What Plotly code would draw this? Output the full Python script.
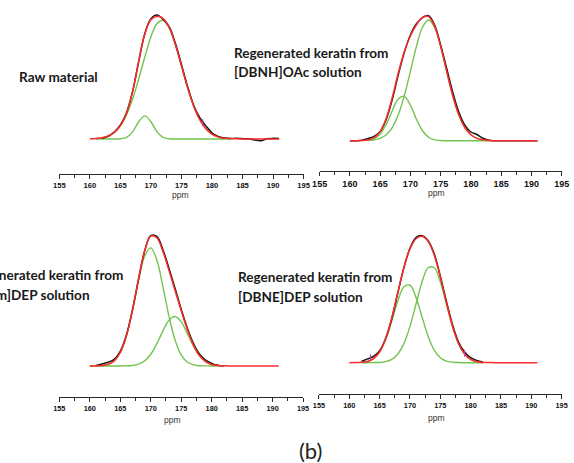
import plotly.graph_objects as go

W, H = 574, 463
N = None

# chemical shift grid (ppm)
PPM = list(range(160, 192))

# ---- Panel 1: Raw material ----
p1_exp = [N, N, 0.5, 2.2, 5.6, 11.2, 21.0, 38.0, 62.0, 84.0, 96.0, 99.0, 95.5, 89.5, 76.5, 59.5,
          42.0, 27.0, 17.0, 10.5, 5.0, 2.0, 0.8, 0.4, 0.6, 0.3, 0.2, -0.8, -1.4, 0.2, 0.5, 0.4]
p1_fit = [0.1, 0.4, 1.0, 2.4, 5.3, 10.8, 20.6, 37.6, 61.8, 84.0, 95.3, 97.9, 96.1, 88.9, 75.5, 58.5,
          41.2, 26.4, 15.4, 8.1, 3.9, 1.7, 0.7, 0.3, 0.1, 0, 0, 0, 0, 0, 0, 0]
p1_pk_a = [N, 0.4, 1.0, 2.4, 5.3, 10.6, 19.3, 31.9, 48.0, 65.5, 81.5, 92.2, 94.8, 88.7, 75.5, 58.5,
           41.2, 26.4, 15.4, 8.1, 3.9, 1.7, 0.7, 0.3, N, N, N, N, N, N, N, N]
p1_pk_b = [N, 0, 0, 0, 0.05, 0.2, 1.3, 5.7, 13.8, 18.5, 13.8, 5.7, 1.3, 0.2, 0, 0,
           0, 0, 0, 0, 0, 0, 0, 0, N, N, N, N, N, N, N, N]

# ---- Panel 2: [DBNH]OAc ----
p2_exp = [0, 0, 0.3, 1.8, 3.5, 7.5, 17.0, 33.0, 53.0, 71.0, 85.0, 94.0, 99.0, 100.5, 93.0, 77.0,
          58.0, 39.0, 23.0, 12.5, 7.0, 5.0, 2.0, 0.3, 0, 0, 0, 0, 0, 0, 0, 0]
p2_fit = [0, 0, 0.1, 0.6, 2.4, 7.3, 17.9, 34.7, 54.4, 71.8, 84.2, 93.1, 99.2, 99.8, 91.9, 76.0,
          55.7, 36.2, 20.8, 10.6, 4.8, 1.9, 0.7, 0.2, 0, 0, 0, 0, 0, 0, 0, 0]
p2_pk_a = [N, N, N, 0.2, 0.7, 1.9, 4.8, 10.6, 20.8, 36.2, 55.7, 75.8, 91.2, 97.0, 91.2, 75.8,
           55.7, 36.2, 20.8, 10.6, 4.8, 1.9, 0.7, 0.2, N, N, N, N, N, N, N, N]
p2_pk_b = [N, N, N, 0.4, 1.7, 5.4, 13.1, 24.1, 33.6, 35.6, 28.5, 17.3, 8.0, 2.8, 0.7, 0.2,
           0, 0, 0, 0, 0, 0, 0, 0, N, N, N, N, N, N, N, N]

# ---- Panel 3: [Emim]DEP ----
p3_exp = [N, 0.3, 1.5, 2.8, 5.0, 11.0, 23.0, 42.0, 65.0, 86.0, 97.5, 97.0, 87.0, 73.0, 58.0, 42.5,
          28.5, 17.0, 9.0, 4.5, 2.0, 0.5, 0.0, N, N, N, N, N, N, N, N, N]
p3_fit = [0, 0.1, 0.3, 1.2, 3.8, 10.1, 22.4, 41.7, 65.2, 86.0, 97.2, 96.0, 85.7, 71.4, 56.3, 41.4,
          27.4, 15.8, 7.8, 3.3, 1.1, 0.3, 0.1, 0, 0, 0, 0, 0, 0, 0, 0, 0]
p3_pk_a = [0, 0.1, 0.3, 1.2, 3.8, 10.1, 22.3, 41.3, 63.8, 82.2, 88.4, 79.3, 59.4, 37.1, 19.3, 8.4,
           3.0, 0.9, 0.2, 0.1, 0, 0, N, N, N, N, N, N, N, N, N, N]
p3_pk_b = [0, 0, 0, 0, 0, 0, 0.1, 0.4, 1.4, 3.8, 8.8, 16.7, 26.3, 34.3, 37.0, 33.0,
           24.4, 14.9, 7.6, 3.2, 1.1, 0.3, N, N, N, N, N, N, N, N, N, N]

# ---- Panel 4: [DBNE]DEP ----
p4_exp = [N, N, 1.0, 3.0, 5.0, 9.5, 19.5, 35.0, 55.5, 75.5, 91.0, 99.5, 101.0, 97.0, 86.5, 69.0,
          49.0, 30.5, 16.5, 8.5, 4.0, 1.8, 0.5, N, N, N, N, N, N, N, N, N]
p4_fit = [0, 0.1, 0.3, 1.0, 3.3, 8.7, 19.3, 35.6, 56.0, 75.6, 90.5, 98.6, 100.6, 96.5, 85.5, 68.3,
          48.0, 29.3, 15.3, 6.9, 2.6, 0.9, 0.2, 0.1, 0, 0, 0, 0, 0, 0, 0, 0]
p4_pk_a = [N, N, 0.3, 1.0, 3.2, 8.5, 18.4, 33.0, 49.1, 60.4, 61.6, 51.9, 36.3, 21.0, 10.0, 4.0,
           1.3, 0.4, 0.1, 0, 0, 0, 0, N, N, N, N, N, N, N, N, N]
p4_pk_b = [N, N, 0, 0, 0.1, 0.2, 0.9, 2.6, 6.9, 15.2, 28.9, 46.7, 64.3, 75.5, 75.5, 64.3,
           46.7, 28.9, 15.2, 6.9, 2.6, 0.9, 0.2, N, N, N, N, N, N, N, N, N]

# small magenta cursor marks on the experimental traces
p1_mark_x, p1_mark_y = [178.5], [13.0]
p4_mark_x, p4_mark_y = [163.5, 179.0], [4.0, 7.5]

titles = [
    ["Raw material"],
    ["Regenerated keratin from", "[DBNH]OAc solution"],
    ["Regenerated keratin from", "[Emim]DEP solution"],
    ["Regenerated keratin from", "[DBNE]DEP solution"],
]
tick_vals = [155, 160, 165, 170, 175, 180, 185, 190, 195]
minor_vals = [157.5, 162.5, 167.5, 172.5, 177.5, 182.5, 187.5, 192.5]
x_title = "ppm"
fig_label = "(b)"

# layout geometry in pixels: x of 155 / 195, axis line y, baseline y, peak y
geom = [
    dict(x0=52.7, x1=303.5, A=174.0, B=139.0, P=15.0, tf=7.6),
    dict(x0=320.0, x1=568.5, A=171.0, B=140.7, P=15.7, tf=9.0),
    dict(x0=52.7, x1=303.0, A=397.0, B=366.0, P=235.7, tf=7.3),
    dict(x0=319.3, x1=568.5, A=394.0, B=362.7, P=235.7, tf=7.3),
]

panels = [
    (p1_exp, p1_fit, p1_pk_a, p1_pk_b),
    (p2_exp, p2_fit, p2_pk_a, p2_pk_b),
    (p3_exp, p3_fit, p3_pk_a, p3_pk_b),
    (p4_exp, p4_fit, p4_pk_a, p4_pk_b),
]

RED = "#ff2a2a"
BLACK = "#151515"
GREEN = "#72c44e"
AXC = "#2a2a2a"

fig = go.Figure()
layout = dict(width=W, height=H, margin=dict(l=0, r=0, t=0, b=0),
              paper_bgcolor="white", plot_bgcolor="rgba(0,0,0,0)", showlegend=False)

for i, (exp, fit, pa, pb) in enumerate(panels):
    k = i + 1
    xa = "x" if k == 1 else f"x{k}"
    ya = "y" if k == 1 else f"y{k}"
    g = geom[i]
    for arr, col, w in ((pa, GREEN, 1.4), (pb, GREEN, 1.4), (exp, BLACK, 1.5), (fit, RED, 1.5)):
        fig.add_trace(go.Scatter(x=PPM, y=arr, mode="lines", xaxis=xa, yaxis=ya,
                                 line=dict(color=col, width=w, shape="spline", smoothing=1.0),
                                 connectgaps=False, hoverinfo="skip"))
    vmax = max(v for v in exp + fit if v is not None)
    T = g["P"] - 4
    s = (g["B"] - g["P"]) / vmax
    ymin = -(g["A"] - g["B"]) / s
    ymax = (g["B"] - T) / s
    layout["xaxis" if k == 1 else f"xaxis{k}"] = dict(
        domain=[g["x0"] / W, g["x1"] / W], range=[155, 195], anchor=ya,
        showgrid=False, zeroline=False, showline=True, linecolor=AXC, linewidth=1,
        ticks="outside", ticklen=4, tickwidth=1, tickcolor=AXC,
        tickvals=tick_vals, ticktext=[f"<b>{v}</b>" for v in tick_vals],
        tickfont=dict(family="Liberation Sans, Arial", size=g["tf"], color="#111"),
        minor=dict(tickvals=minor_vals, ticks="outside", ticklen=2.5, tickcolor=AXC, tickwidth=1),
        fixedrange=True)
    layout["yaxis" if k == 1 else f"yaxis{k}"] = dict(
        domain=[(H - g["A"]) / H, (H - T) / H], range=[ymin, ymax], anchor=xa,
        visible=False, fixedrange=True)

fig.add_trace(go.Scatter(x=p1_mark_x, y=p1_mark_y, mode="markers", xaxis="x", yaxis="y",
                         marker=dict(symbol="line-ns", size=5, line=dict(color="#c040c0", width=1)),
                         hoverinfo="skip"))
fig.add_trace(go.Scatter(x=p4_mark_x, y=p4_mark_y, mode="markers", xaxis="x4", yaxis="y4",
                         marker=dict(symbol="line-ns", size=5, line=dict(color="#c040c0", width=1)),
                         hoverinfo="skip"))

ann = []
TF = dict(family="Lato, Open Sans, sans-serif", size=13.6, color="#1a1a1a")
# (left x px, line-center y px) for each title line
title_pos = [
    [(9.5, 77.0)],
    [(229.5, 53.0), (229.5, 72.0)],
    [(-42.0, 275.0), (-42.0, 295.0)],
    [(234.5, 276.5), (234.5, 296.5)],
]
for lines, poss in zip(titles, title_pos):
    for txt, (px, py) in zip(lines, poss):
        ann.append(dict(text=f"<b>{txt}</b>", xref="paper", yref="paper",
                        x=px / W, y=(H - py) / H, xanchor="left", yanchor="middle",
                        showarrow=False, font=TF))
ppm_pos = [(177.0, 195.0), (440.0, 193.0), (169.0, 420.0), (440.0, 418.0)]
for px, py in ppm_pos:
    ann.append(dict(text=x_title, xref="paper", yref="paper", x=px / W, y=(H - py) / H,
                    xanchor="center", yanchor="middle", showarrow=False,
                    font=dict(family="Liberation Sans, Arial", size=8.5, color="#333")))
ann.append(dict(text=fig_label, xref="paper", yref="paper", x=311 / W, y=(H - 450) / H,
                xanchor="center", yanchor="middle", showarrow=False,
                font=dict(family="Lato, Open Sans, sans-serif", size=22, color="#222")))
layout["annotations"] = ann

fig.update_layout(**layout)
fig.write_html("out.html", config={"displayModeBar": False},
               post_script="document.body.style.margin='0';")
